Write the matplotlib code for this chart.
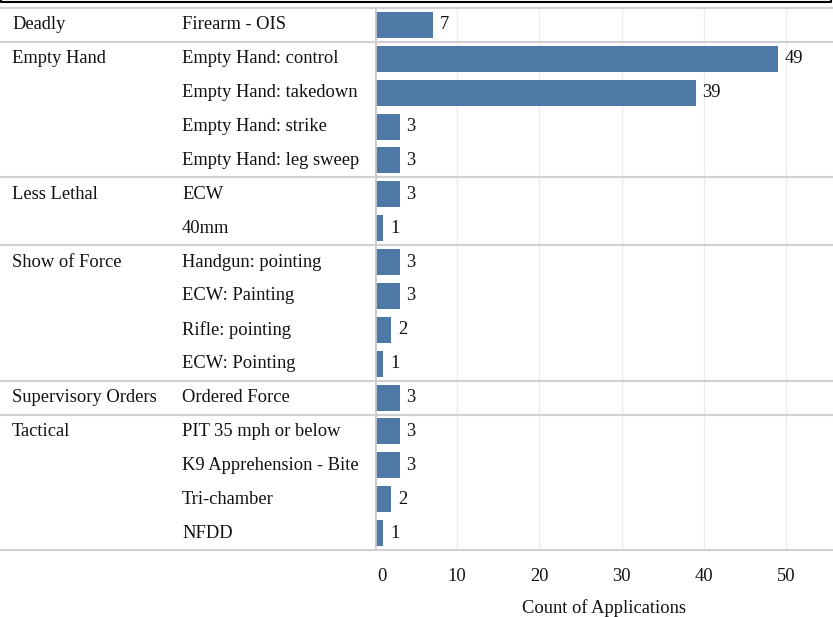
import matplotlib.pyplot as plt
from matplotlib.transforms import blended_transform_factory, ScaledTranslation
from matplotlib.lines import Line2D
import numpy as np

# Данные
groups = ["Deadly", "Empty Hand", "Empty Hand", "Empty Hand", "Empty Hand",
          "Less Lethal", "Less Lethal",
          "Show of Force", "Show of Force", "Show of Force", "Show of Force",
          "Supervisory Orders",
          "Tactical", "Tactical", "Tactical", "Tactical"]
types = ["Firearm - OIS", "Empty Hand: control", "Empty Hand: takedown",
         "Empty Hand: strike", "Empty Hand: leg sweep", "ECW", "40mm",
         "Handgun: pointing", "ECW: Painting", "Rifle: pointing", "ECW: Pointing",
         "Ordered Force", "PIT 35 mph or below", "K9 Apprehension - Bite",
         "Tri-chamber", "NFDD"]
counts = [7, 49, 39, 3, 3, 3, 1, 3, 3, 2, 1, 3, 3, 3, 2, 1]
xticks = [0, 10, 20, 30, 40, 50]

plt.rcParams['font.family'] = ['Liberation Serif', 'DejaVu Serif']
W, H = 833, 617
FS = 13.3
TXT = '#111111'
fig = plt.figure(figsize=(W / 100, H / 100), dpi=100)

# Область столбцов
x0, y_top, y_bot = 375, 8, 550
ax = fig.add_axes([x0 / W, (H - y_bot) / H, (W - x0) / W, (y_bot - y_top) / H])
n = len(counts)
y = np.arange(n)
ax.barh(y, counts, height=0.77, color='#4e79a7', zorder=3)
for yi, c in zip(y, counts):
    ax.annotate(str(c), (c, yi), xytext=(5, 0), textcoords='offset points',
                va='center', ha='left', fontsize=FS, color=TXT)
ax.set_ylim(n - 0.5, -0.5)
ax.set_xlim(0, (W - x0) / 8.22)
ax.set_yticks([])
ax.set_xticks(xticks)
ax.tick_params(axis='x', length=0, labelsize=FS, pad=13, colors=TXT)
ax.xaxis.grid(True, color='#ececec', linewidth=1, zorder=0)
for s in ax.spines.values():
    s.set_visible(False)
ax.axvline(0, color='#c8c8c8', linewidth=2, zorder=4)
# сдвиг метки "0" вправо как в Tableau
lbl0 = ax.get_xticklabels()[0]
lbl0.set_transform(lbl0.get_transform() + ScaledTranslation(7 / 100, 0, fig.dpi_scale_trans))
ax.set_xlabel('Count of Applications', fontsize=FS, labelpad=10, color=TXT)

# Левые колонки и разделители
tr = blended_transform_factory(fig.transFigure, ax.transData)
prev = None
for i, (g, t) in enumerate(zip(groups, types)):
    if g != prev:
        fig.add_artist(Line2D([0, 1], [i - 0.5, i - 0.5], transform=tr,
                              color='#d0d0d0', linewidth=1.5))
        fig.text(12 / W, i, g, transform=tr, va='center', ha='left',
                 fontsize=FS, color=TXT)
        prev = g
    fig.text(182 / W, i, t, transform=tr, va='center', ha='left',
             fontsize=FS, color=TXT)
fig.add_artist(Line2D([0, 1], [n - 0.5, n - 0.5], transform=tr,
                      color='#d0d0d0', linewidth=1.5))

# Верхняя чёрная рамка
fig.add_artist(Line2D([1 / W, 1 / W, (W - 2) / W, (W - 2) / W],
                      [1, (H - 2) / H, (H - 2) / H, 1],
                      transform=fig.transFigure, color='black', linewidth=1.5))

fig.savefig('out.png', dpi=100)
